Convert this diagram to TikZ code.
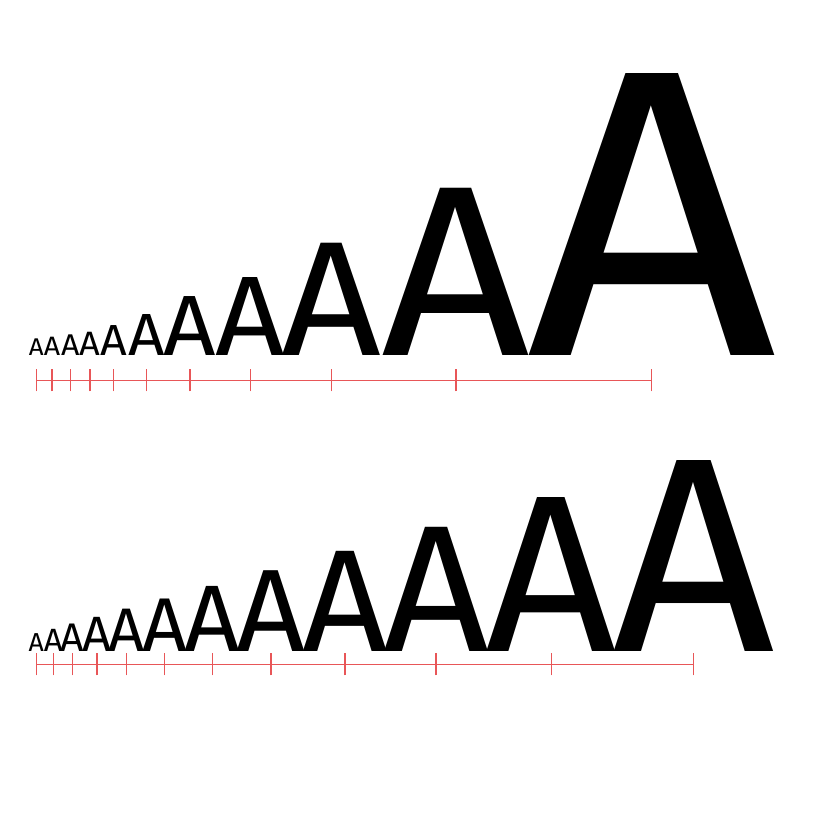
\documentclass[tikz,border=0pt]{standalone}
\usepackage{fontspec}
\setmainfont{Fira Sans}
\definecolor{scalered}{RGB}{232,86,88}
\tikzset{
  letter/.style={anchor=base, inner sep=0pt, outer sep=0pt, text=black},
  ruler/.style={draw=scalered, line width=1.3pt},
}
\begin{document}
\begin{tikzpicture}[x=1pt,y=1pt]
\useasboundingbox (0,0) rectangle (834,834);
% top row
\foreach \i/\x/\s in {1/36.3/24.2, 2/52/26.6, 3/70.3/30.0, 4/90/33.8, 5/113.7/43.5, 6/146.3/59.5, 7/190/85.6, 8/250.3/113.2, 9/331.7/163.0, 10/456/242.8, 11/651.7/409.3} {
  \node[letter, xscale=1.07, transform shape] (ta\i) at (\x,478.5) {\fontsize{\s pt}{\s pt}\selectfont A};
  \coordinate (tk\i) at (\x,453.5);
}
\draw[ruler] (tk1) -- (tk11);
\foreach \i in {1,...,11} \draw[ruler] ([yshift=-11pt]tk\i) -- ([yshift=11pt]tk\i);
% bottom row
\foreach \i/\x/\s in {1/36.3/26.0, 2/53.3/32.2, 3/72.7/39.9, 4/97/49.6, 5/126.3/61.5, 6/164.7/76.2, 7/212.3/94.5, 8/271/117.3, 9/345/145.4, 10/436/180.3, 11/551.3/223.5, 12/693.7/277.2} {
  \node[letter, xscale=1.025, transform shape] (ba\i) at (\x,182.3) {\fontsize{\s pt}{\s pt}\selectfont A};
  \coordinate (bk\i) at (\x,169.7);
}
\draw[ruler] (bk1) -- (bk12);
\foreach \i in {1,...,12} \draw[ruler] ([yshift=-11pt]bk\i) -- ([yshift=11pt]bk\i);
\end{tikzpicture}
\end{document}
